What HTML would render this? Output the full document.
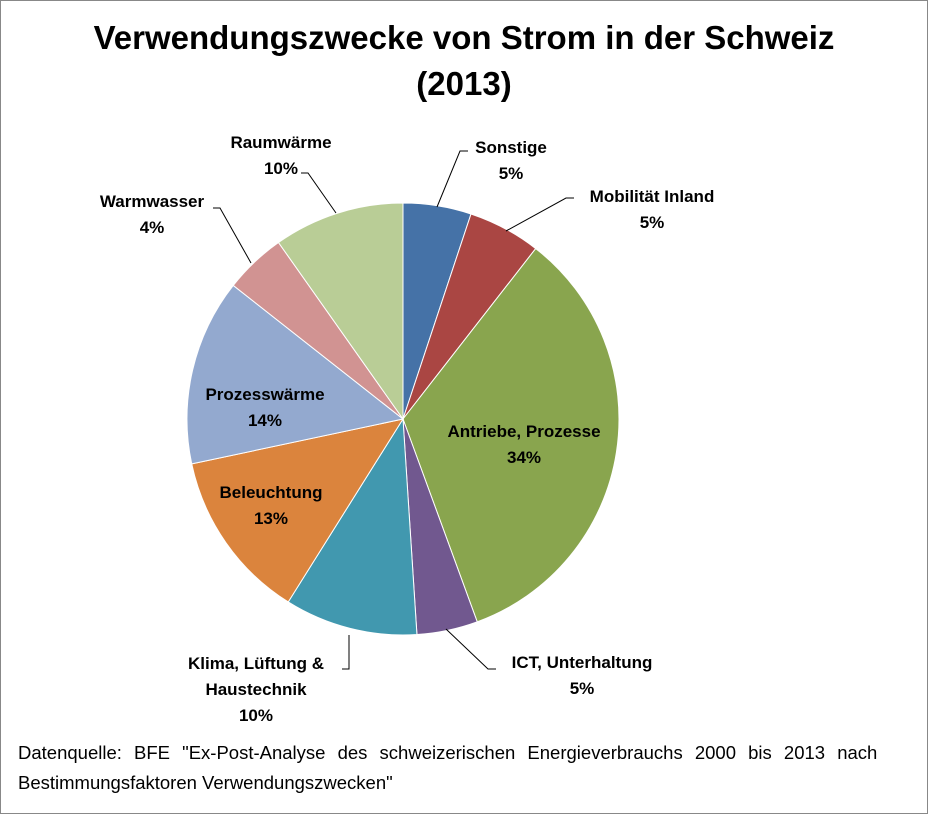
<!DOCTYPE html>
<html><head><meta charset="utf-8"><style>
body{margin:0;background:#fff}
#c{position:relative;width:926px;height:812px;border:1px solid #888;background:#fff;font-family:"Liberation Sans",sans-serif;overflow:hidden}
.t{position:absolute;left:0;width:926px;text-align:center;font-weight:bold;font-size:33px;color:#000}
.l{position:absolute;font-weight:bold;font-size:17px;text-align:center;line-height:26px;color:#000;transform:translateX(-50%);white-space:nowrap}
.f{position:absolute;left:17px;top:737px;font-size:18.5px;line-height:30px;color:#000;white-space:nowrap}
</style></head><body><div id="c">
<div class="t" style="top:18px">Verwendungszwecke von Strom in der Schweiz</div>
<div class="t" style="top:64px">(2013)</div>
<svg id="s" width="926" height="812" style="position:absolute;left:0;top:0"></svg>
<div class="l" style="left:510px;top:134px">Sonstige<br>5%</div>
<div class="l" style="left:651px;top:183px">Mobilität Inland<br>5%</div>
<div class="l" style="left:523px;top:418px">Antriebe, Prozesse<br>34%</div>
<div class="l" style="left:581px;top:649px">ICT, Unterhaltung<br>5%</div>
<div class="l" style="left:255px;top:650px">Klima, Lüftung &amp;<br>Haustechnik<br>10%</div>
<div class="l" style="left:270px;top:479px">Beleuchtung<br>13%</div>
<div class="l" style="left:264px;top:381px">Prozesswärme<br>14%</div>
<div class="l" style="left:151px;top:188px">Warmwasser<br>4%</div>
<div class="l" style="left:280px;top:129px">Raumwärme<br>10%</div>
<div class="f"><span style="word-spacing:7px">Datenquelle: BFE "Ex-Post-Analyse des schweizerischen Energieverbrauchs 2000 bis 2013 nach</span><br>Bestimmungsfaktoren Verwendungszwecken"</div>
</div>
<script>
var cx=402,cy=418,r=216;
var d=[[18.35,"#4572A7"],[37.9,"#AA4643"],[159.9,"#89A54E"],[176.3,"#71588F"],[212.1,"#4198AF"],[258,"#DB843D"],[308.2,"#93A9CF"],[324.8,"#D19392"],[360,"#B9CD96"]];
var s="",a0=0;
function p(a){a=a*Math.PI/180;return (cx+r*Math.sin(a)).toFixed(2)+","+(cy-r*Math.cos(a)).toFixed(2);}
d.forEach(function(e){var a1=e[0];s+='<path d="M'+cx+','+cy+' L'+p(a0)+' A'+r+','+r+' 0 '+((a1-a0)>180?1:0)+' 1 '+p(a1)+' Z" fill="'+e[1]+'" stroke="#fff" stroke-width="1"/>';a0=a1;});
var L=[[436,206,459,150,467,150],[505,230,565,197,573,197],[445,628,487,668,495,668],[348,634,348,668,341,668],[250,262,219,207,212,207],[335,212,307,172,300,172]];
L.forEach(function(q){s+='<polyline points="'+q.join(",")+'" fill="none" stroke="#000" stroke-width="1"/>';});
document.getElementById("s").innerHTML=s;
</script>
</body></html>
